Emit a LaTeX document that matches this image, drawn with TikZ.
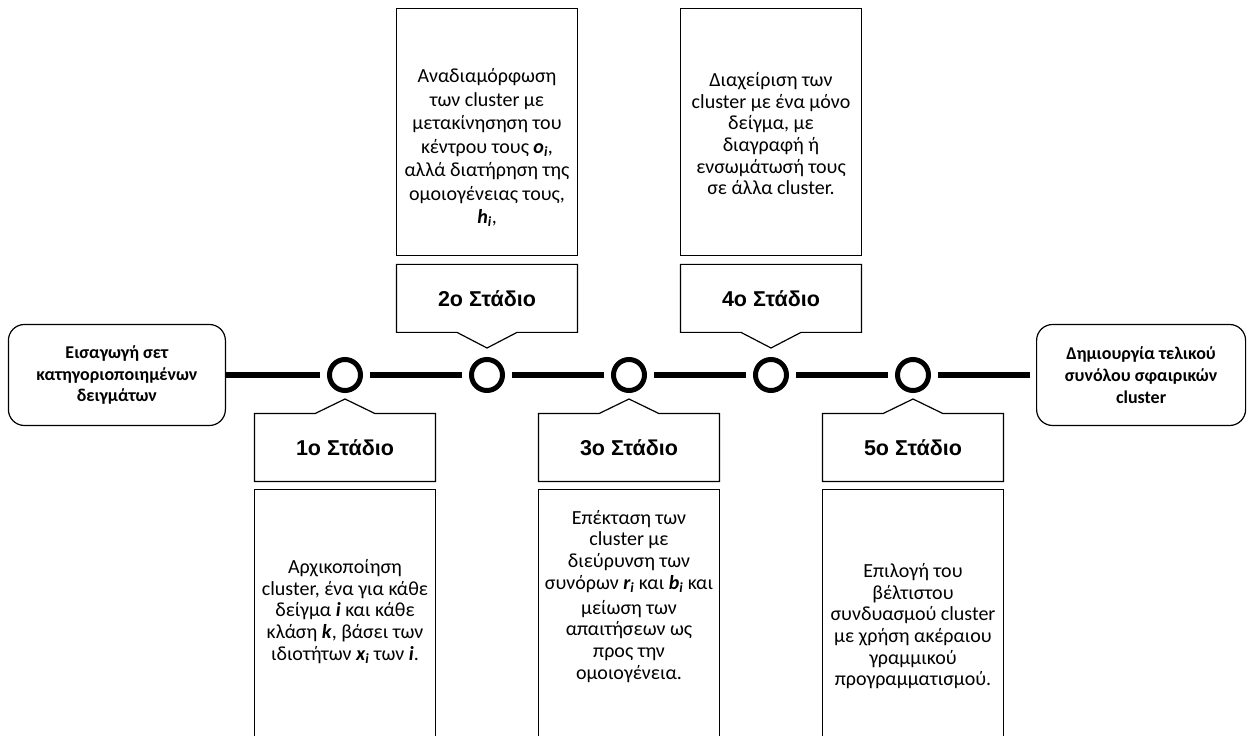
\documentclass[tikz,border=0pt]{standalone}
\usepackage{fontspec}
\setmainfont{Carlito}
\newfontfamily\stagefont{Liberation Sans}
\usetikzlibrary{shapes.callouts, positioning, calc}

\newcommand{\var}[1]{\textbf{\textit{#1}}}

\begin{document}
\begin{tikzpicture}[
    x=1pt, y=1pt,
    node distance=92pt,
    endbox/.style={
        rectangle, rounded corners=16pt,
        draw=black, line width=1.2pt,
        minimum width=217pt, minimum height=101pt,
        align=center,
        font=\fontsize{18}{21.7}\selectfont\bfseries
    },
    stagept/.style={
        circle, draw=black, line width=5pt,
        minimum size=31pt, inner sep=0pt, outer sep=9.5pt
    },
    stagelbl/.style={
        rectangle callout, draw=black, line width=1.2pt,
        minimum width=181pt, minimum height=68pt,
        callout pointer width=60pt,
        font=\stagefont\fontsize{21.5}{25}\selectfont\bfseries
    },
    descbox/.style={
        rectangle, draw=black, line width=1.2pt,
        minimum width=181pt, minimum height=247pt
    },
    desc/.style={
        align=center,
        font=\fontsize{20}{21.7}\selectfont
    },
    timeline/.style={
        line width=5.5pt
    }
]
\useasboundingbox (0,0) rectangle (1250,736);
\clip (0,0) rectangle (1250,736);

% Stage points on the timeline
\node[stagept] (c1) at (345,361) {};
\node[stagept, right=of c1] (c2) {};
\node[stagept, right=of c2] (c3) {};
\node[stagept, right=of c3] (c4) {};
\node[stagept, right=of c4] (c5) {};

% Input and output
\node[endbox, left=94pt of c1] (input) {Εισαγωγή σετ\\κατηγοριοποιημένων\\δειγμάτων};
\node[endbox, right=98pt of c5, minimum width=209pt] (output) {Δημιουργία τελικού\\συνόλου σφαιρικών\\cluster};

% Timeline
\draw[timeline] (input) -- (c1);
\draw[timeline] (c1) -- (c2);
\draw[timeline] (c2) -- (c3);
\draw[timeline] (c3) -- (c4);
\draw[timeline] (c4) -- (c5);
\draw[timeline, shorten >=6pt] (c5) -- (output);

% Stage labels, below and above the line
\node[stagelbl, below=13pt of c1, callout absolute pointer={($(c1)+(0,-24)$)}] (s1) {1ο Στάδιο};
\node[stagelbl, above=17pt of c2, callout absolute pointer={($(c2)+(0,27)$)}] (s2) {2ο Στάδιο};
\node[stagelbl, below=13pt of c3, callout absolute pointer={($(c3)+(0,-24)$)}] (s3) {3ο Στάδιο};
\node[stagelbl, above=17pt of c4, callout absolute pointer={($(c4)+(0,27)$)}] (s4) {4ο Στάδιο};
\node[stagelbl, below=13pt of c5, callout absolute pointer={($(c5)+(0,-24)$)}] (s5) {5ο Στάδιο};

% Description boxes
\node[descbox, below=7pt of s1] (d1) {};
\node[descbox, above=8pt of s2] (d2) {};
\node[descbox, below=7pt of s3] (d3) {};
\node[descbox, above=8pt of s4] (d4) {};
\node[descbox, below=7pt of s5] (d5) {};

\node[desc] (t1) at ($(d1.center)+(0,2)$) {Αρχικοποίηση\\cluster, ένα για κάθε\\δείγμα \var{i} και κάθε\\κλάση \var{k}, βάσει των\\ιδιοτήτων \var{x\textsubscript{i}} των \var{i}.};
\node[desc, font=\fontsize{20}{23.5}\selectfont] (t2) at ($(d2.center)+(0,-16)$) {Αναδιαμόρφωση\\των cluster με\\μετακίνησηση του\\κέντρου τους \var{o\textsubscript{i}},\\αλλά διατήρηση της\\ομοιογένειας τους,\\\var{h\textsubscript{i}},};
\node[desc] (t3) at ($(d3.center)+(0,17)$) {Επέκταση των\\cluster με\\διεύρυνση των\\συνόρων \var{r\textsubscript{i}} και \var{b\textsubscript{i}} και\\[3pt]μείωση των\\απαιτήσεων ως\\προς την\\ομοιογένεια.};
\node[desc] (t4) at ($(d4.center)+(0,-2)$) {Διαχείριση των\\cluster με ένα μόνο\\δείγμα, με\\διαγραφή ή\\ενσωμάτωσή τους\\σε άλλα cluster.};
\node[desc] (t5) at ($(d5.center)+(0,-13)$) {Επιλογή του\\βέλτιστου\\συνδυασμού cluster\\με χρήση ακέραιου\\γραμμικού\\προγραμματισμού.};

\end{tikzpicture}
\end{document}
